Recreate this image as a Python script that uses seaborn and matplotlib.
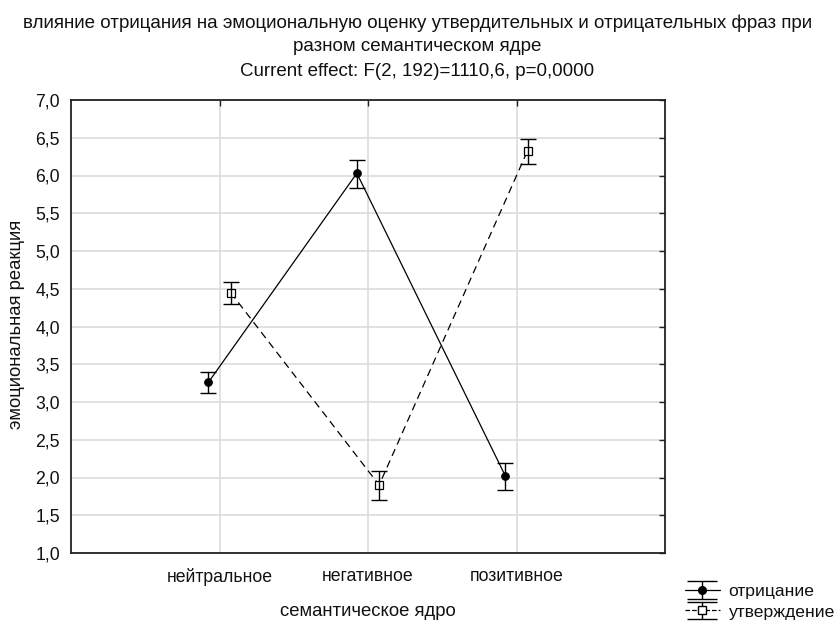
import numpy as np
import pandas as pd
import matplotlib
matplotlib.use("Agg")
import matplotlib.pyplot as plt
import seaborn as sns

categories = ["нейтральное", "негативное", "позитивное"]
groups = ["отрицание", "утверждение"]
neg_mean = [3.26, 6.03, 2.02]
neg_lo = [3.12, 5.84, 1.84]
neg_hi = [3.40, 6.21, 2.19]
aff_mean = [4.45, 1.90, 6.33]
aff_lo = [4.30, 1.70, 6.15]
aff_hi = [4.59, 2.08, 6.49]
y_ticks = [1.0, 1.5, 2.0, 2.5, 3.0, 3.5, 4.0, 4.5, 5.0, 5.5, 6.0, 6.5, 7.0]

title = ("влияние отрицания на эмоциональную оценку утвердительных и отрицательных фраз при\n"
         "разном семантическом ядре")
subtitle = "Current effect: F(2, 192)=1110,6, p=0,0000"

sns.set_theme(style="white")
plt.rcParams["font.family"] = ["Liberation Sans", "DejaVu Sans"]
txt = "#111111"

fig = plt.figure(figsize=(8.35, 6.21), dpi=100)
ax = fig.add_axes([71/835, 1-553/621, (665-71)/835, (553-100)/621])

offset = 0.075
rows = []
for g, means, sgn in [(groups[0], neg_mean, -1), (groups[1], aff_mean, 1)]:
    for i, (c, m) in enumerate(zip(categories, means)):
        rows.append({"x": i + sgn*offset, "y": m, "group": g, "cat": c})
df = pd.DataFrame(rows)

sns.lineplot(data=df, x="x", y="y", style="group", hue="group",
             palette={groups[0]: "black", groups[1]: "black"},
             markers={groups[0]: "o", groups[1]: "s"},
             dashes={groups[0]: "", groups[1]: (6, 4)},
             linewidth=0.9, markersize=5.5, legend=False, ax=ax, sort=False)
lines = ax.get_lines()
lines[0].set_markerfacecolor("black"); lines[0].set_markeredgecolor("black")
lines[1].set_markerfacecolor("white"); lines[1].set_markeredgecolor("black")
lines[1].set_markeredgewidth(0.9); lines[1].set_markersize(5.5)
lines[1].set_zorder(3)

xs0 = np.arange(3) - offset
xs1 = np.arange(3) + offset
ax.errorbar(xs0, neg_mean,
            yerr=[np.array(neg_mean)-np.array(neg_lo), np.array(neg_hi)-np.array(neg_mean)],
            fmt="none", ecolor="black", elinewidth=1.0, capsize=5.8, capthick=1.0, zorder=4)
ax.errorbar(xs1, aff_mean,
            yerr=[np.array(aff_mean)-np.array(aff_lo), np.array(aff_hi)-np.array(aff_mean)],
            fmt="none", ecolor="black", elinewidth=1.0, capsize=5.8, capthick=1.0, zorder=4)

ax.set_xlim(-1.0, 3.0)
ax.set_ylim(1.0, 7.0)
ax.set_xticks(range(3))
ax.set_xticklabels(categories)
ax.set_yticks(y_ticks)
ax.set_yticklabels([f"{v:.1f}".replace(".", ",") for v in y_ticks])
ax.grid(True, color="#dcdcdc", linewidth=1.2)
ax.set_axisbelow(True)
for s in ax.spines.values():
    s.set_color("#222222"); s.set_linewidth(1.3); s.set_visible(True)
ax.tick_params(direction="in", length=4, width=1, color="#222222",
               top=True, right=True, labelsize=12.7, labelcolor=txt, pad=8)
ax.tick_params(axis="x", pad=11)
ax.set_xlabel("семантическое ядро", fontsize=13.3, color=txt, labelpad=12)
ax.set_ylabel("эмоциональная реакция", fontsize=13.3, color=txt)
ax.yaxis.set_label_coords((25 - 71) / 594, 0.505)

fig.text(0.5, 1-14/621, title, ha="center", va="top", fontsize=13.5, color=txt, linespacing=1.5)
fig.text(0.5, 1-72/621, subtitle, ha="center", va="center", fontsize=13.5, color=txt)

h0 = ax.errorbar([np.nan], [np.nan], yerr=[np.nan], fmt="-o", color="black", mfc="black",
                 ms=5.5, lw=0.9, capsize=11, elinewidth=1.0)
h1 = ax.errorbar([np.nan], [np.nan], yerr=[np.nan], fmt="--s", color="black", mfc="white",
                 ms=5.5, lw=0.9, capsize=11, elinewidth=1.0)
fig.legend([h0, h1], groups, loc="upper left", bbox_to_anchor=(676/835, 1-575/621),
           frameon=False, fontsize=12.6, labelcolor=txt, handlelength=2.0,
           handletextpad=0.5, labelspacing=0.3, borderpad=0)

fig.savefig("out.png", dpi=100)
